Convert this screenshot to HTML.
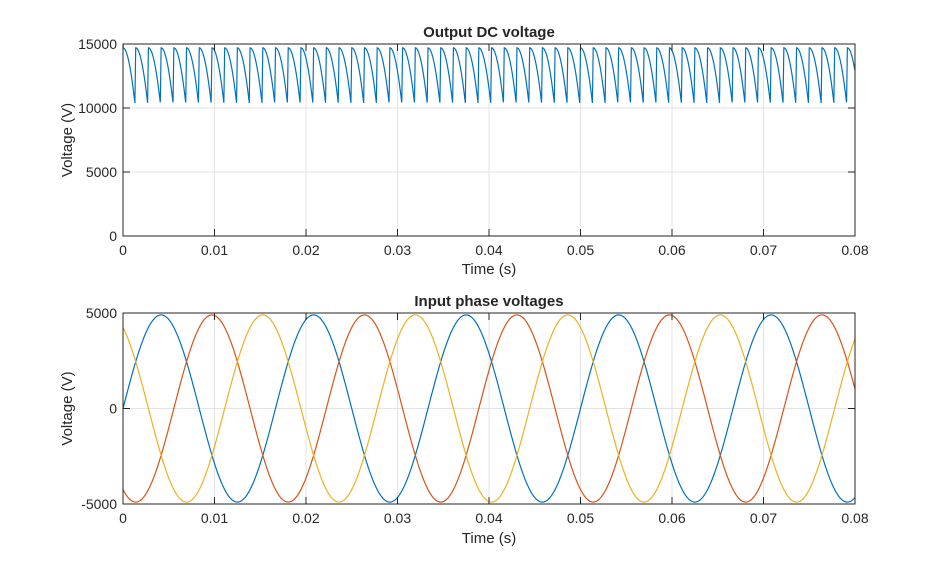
<!DOCTYPE html>
<html><head><meta charset="utf-8"><style>
body{margin:0;background:#fff;}
svg{display:block;font-family:"Liberation Sans",Arial,sans-serif;}
</style></head><body>
<svg id="s" width="946" height="569" xmlns="http://www.w3.org/2000/svg"></svg>
<script>
const s=document.getElementById('s');
let h='';
const X0=123,X1=855;
const xs=t=>X0+(X1-X0)*t/0.08;
function axes(yT,yB,ymin,ymax,yticks){
  const ys=v=>yB-(yB-yT)*(v-ymin)/(ymax-ymin);
  for(let i=0;i<=8;i++){const x=xs(i*0.01);h+=`<line x1="${x}" y1="${yT}" x2="${x}" y2="${yB}" stroke="#e3e3e3" stroke-width="1"/>`;}
  yticks.forEach(v=>{const y=ys(v);h+=`<line x1="${X0}" y1="${y}" x2="${X1}" y2="${y}" stroke="#e3e3e3"/>`;});
  return ys;
}
function frame(yT,yB,ymin,ymax,yticks,title,titleY,xlabY){
  const ys=v=>yB-(yB-yT)*(v-ymin)/(ymax-ymin);
  h+=`<rect x="${X0}" y="${yT}" width="${X1-X0}" height="${yB-yT}" fill="none" stroke="#262626" stroke-width="1"/>`;
  for(let i=0;i<=8;i++){const x=xs(i*0.01);
    h+=`<line x1="${x}" y1="${yB}" x2="${x}" y2="${yB-7}" stroke="#262626"/><line x1="${x}" y1="${yT}" x2="${x}" y2="${yT+7}" stroke="#262626"/>`;
    h+=`<text x="${x}" y="${yB+19}" font-size="14" text-anchor="middle" fill="#262626">${i==0?'0':(i*0.01).toFixed(2)}</text>`;}
  yticks.forEach(v=>{const y=ys(v);
    h+=`<line x1="${X0}" y1="${y}" x2="${X0+7}" y2="${y}" stroke="#262626"/><line x1="${X1}" y1="${y}" x2="${X1-7}" y2="${y}" stroke="#262626"/>`;
    h+=`<text x="${X0-6}" y="${y+5}" font-size="14" text-anchor="end" fill="#262626">${v}</text>`;});
  h+=`<text x="489" y="${titleY}" font-size="15" font-weight="bold" text-anchor="middle" fill="#262626">${title}</text>`;
  h+=`<text x="489" y="${xlabY}" font-size="15" text-anchor="middle" fill="#262626">Time (s)</text>`;
  const cy=(yT+yB)/2;
  h+=`<text x="72" y="${cy}" font-size="15" text-anchor="middle" fill="#262626" transform="rotate(-90 72 ${cy})">Voltage (V)</text>`;
}
let ys1=axes(44,236,0,15000,[0,5000,10000,15000]);
const P=1/720, fall=0.0013, VM=14700;
let pts=[];
for(let t=0;t<=0.08;t+=0.00001){
  let f=(t%P);
  let v;
  if(f<fall) v=VM*Math.cos(Math.PI/4*f/fall);
  else v=VM*0.707+(VM*0.293)*(f-fall)/(P-fall);
  if(t<0.00002) v=15000;
  pts.push(xs(t).toFixed(2)+','+ys1(v).toFixed(2));
}
h+=`<polyline points="${pts.join(' ')}" fill="none" stroke="#0072BD" stroke-width="1.2"/>`;
frame(44,236,0,15000,[0,5000,10000,15000],'Output DC voltage',37,274);
let ys2=axes(313,504,-5000,5000,[-5000,0,5000]);
const cols=['#0072BD','#D95319','#EDB120'],ph=[0,-2*Math.PI/3,2*Math.PI/3];
for(let k=0;k<3;k++){let p=[];
  for(let t=0;t<=0.08;t+=0.00005){p.push(xs(t).toFixed(2)+','+ys2(4900*Math.sin(2*Math.PI*60*t+ph[k])).toFixed(2));}
  h+=`<polyline points="${p.join(' ')}" fill="none" stroke="${cols[k]}" stroke-width="1.2"/>`;}
frame(313,504,-5000,5000,[-5000,0,5000],'Input phase voltages',306,543);
s.innerHTML=h;
</script>
</body></html>
